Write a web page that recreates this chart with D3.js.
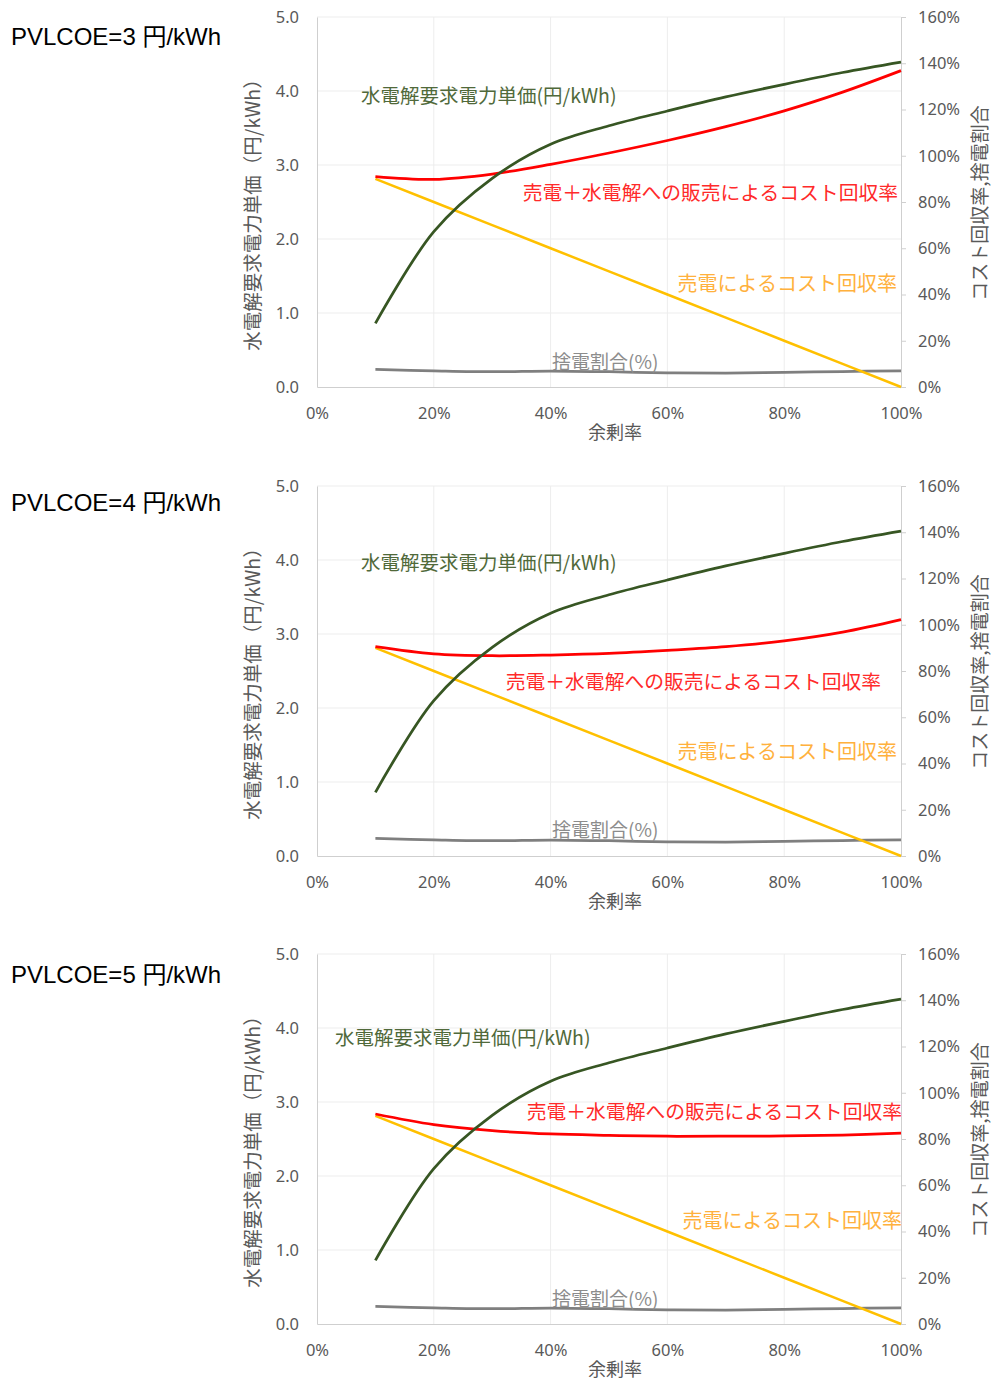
<!DOCTYPE html>
<html>
<head>
<meta charset="utf-8">
<script src="https://cdn.jsdelivr.net/npm/d3@7"></script>
<style>
  html, body { margin: 0; padding: 0; background: #fff; }
  svg { display: block; }
</style>
</head>
<body>
<svg id="fig" width="992" height="1382"></svg>
<script>
// Surplus ratio (%) at which each scenario was evaluated
const surplusRate = [10, 20, 30, 40, 50, 60, 70, 80, 90, 100];
// Required electricity price for electrolysis (yen/kWh), left axis
const demandPrice = [0.86, 2.10, 2.82, 3.28, 3.53, 3.73, 3.92, 4.09, 4.25, 4.39];
// Cost recovery from selling power only (%), right axis
const recoverySale = [90, 80, 70, 60, 50, 40, 30, 20, 10, 0];
// Curtailment ratio (%), right axis
const curtailRatio = [7.6, 7.0, 6.6, 6.9, 6.6, 6.1, 6.0, 6.3, 6.7, 7.0];
// Cost recovery from selling power + selling to electrolysis (%), one series per PV LCOE
const recoveryTotal3 = [91.0, 89.8, 92.1, 96.3, 101.2, 106.6, 112.6, 119.4, 127.5, 136.8];
const recoveryTotal4 = [90.5, 87.4, 86.6, 86.9, 87.6, 88.9, 90.5, 93.0, 96.8, 102.2];
const recoveryTotal5 = [90.8, 86.2, 83.6, 82.2, 81.6, 81.2, 81.2, 81.3, 81.7, 82.5];
const pvLcoe = [3, 4, 5];

// Tick labels
const xTicks = [0, 20, 40, 60, 80, 100];
const yLeftTicks = [0, 1, 2, 3, 4, 5];
const yRightTicks = [0, 20, 40, 60, 80, 100, 120, 140, 160];

// Text
const leftTitle = "水電解要求電力単価（円/kWh）";
const rightTitle = "コスト回収率,捨電割合";
const xTitle = "余剰率";
const lblDemand = "水電解要求電力単価(円/kWh)";
const lblTotal = "売電＋水電解への販売によるコスト回収率";
const lblSale = "売電によるコスト回収率";
const lblCurtail = "捨電割合(%)";

const panels = [
  { lcoe: pvLcoe[0], total: recoveryTotal3 },
  { lcoe: pvLcoe[1], total: recoveryTotal4 },
  { lcoe: pvLcoe[2], total: recoveryTotal5 }
];

// Layout (pixels)
const plotLeft = 317, plotRight = 901, plotH = 370;
const panelTop = [17, 486, 954];
const titleBaseline = [45, 511, 983];
// In-chart label anchors relative to the plot's top-left corner
const labelPos = [
  { demand: [44, 79], total: [581, 176], sale: [580, 267], curtail: [235, 345] },
  { demand: [44, 77], total: [564, 196], sale: [580, 266], curtail: [235, 344] },
  { demand: [18, 84], total: [585, 158], sale: [585, 267], curtail: [235, 345] }
];

const colors = {
  demand: "#375623", total: "#ff0000", sale: "#ffc000", curtail: "#7f7f7f",
  demandText: "#50693a", totalText: "#ff2a2a", saleText: "#ffb13d", curtailText: "#8c8c8c",
  tick: "#595959", grid: "#ededed", axis: "#cfcfcf"
};
const jpFont = "'Noto Sans CJK JP', 'Noto Sans', sans-serif";
const numFont = "'Noto Sans', 'Liberation Sans', sans-serif";

const svg = d3.select("#fig");

const x = d3.scaleLinear().domain([0, 100]).range([0, plotRight - plotLeft]);
const yL = d3.scaleLinear().domain([0, 5]).range([plotH, 0]);
const yR = d3.scaleLinear().domain([0, 160]).range([plotH, 0]);

const curve = d3.curveCatmullRom.alpha(0.5);
const lineLeft = d3.line().x((d, i) => x(surplusRate[i])).y(d => yL(d)).curve(curve);
const lineRight = d3.line().x((d, i) => x(surplusRate[i])).y(d => yR(d)).curve(curve);
const lineStraight = d3.line().x((d, i) => x(surplusRate[i])).y(d => yR(d));

panels.forEach((p, k) => {
  // panel title
  svg.append("text")
    .attr("x", 11).attr("y", titleBaseline[k])
    .attr("font-family", "'Liberation Sans', Arial, 'Noto Sans CJK JP', sans-serif")
    .attr("font-size", 24).attr("fill", "#000")
    .text(`PVLCOE=${p.lcoe} 円/kWh`);

  const g = svg.append("g").attr("transform", `translate(${plotLeft},${panelTop[k]})`);

  // gridlines
  g.append("g").selectAll("line").data(yLeftTicks.filter(v => v > 0)).join("line")
    .attr("x1", 0).attr("x2", x(100)).attr("y1", d => yL(d)).attr("y2", d => yL(d))
    .attr("stroke", colors.grid).attr("stroke-width", 1);
  g.append("g").selectAll("line").data(xTicks.filter(v => v > 0 && v < 100)).join("line")
    .attr("y1", 0).attr("y2", plotH).attr("x1", d => x(d)).attr("x2", d => x(d))
    .attr("stroke", colors.grid).attr("stroke-width", 1);

  // left axis
  const ax = g.append("g").call(d3.axisLeft(yL).tickValues(yLeftTicks).tickFormat(d3.format(".1f")).tickSize(0).tickPadding(18));
  ax.select(".domain").attr("stroke", colors.axis);
  ax.selectAll("text").attr("fill", colors.tick).attr("font-family", numFont).attr("font-size", 16.5);

  // bottom axis
  const bx = g.append("g").attr("transform", `translate(0,${plotH})`)
    .call(d3.axisBottom(x).tickValues(xTicks).tickFormat(d => d + "%").tickSize(0).tickPadding(20));
  bx.select(".domain").attr("stroke", colors.axis);
  bx.selectAll("text").attr("fill", colors.tick).attr("font-family", numFont).attr("font-size", 16.5);

  // right axis
  const rx = g.append("g").attr("transform", `translate(${x(100)},0)`)
    .call(d3.axisRight(yR).tickValues(yRightTicks).tickFormat(d => d + "%").tickSize(5).tickPadding(12));
  rx.select(".domain").attr("stroke", colors.axis);
  rx.selectAll(".tick line").attr("stroke", colors.axis);
  rx.selectAll("text").attr("fill", colors.tick).attr("font-family", numFont).attr("font-size", 16.5);

  // axis titles
  g.append("text")
    .attr("transform", `translate(${253 - plotLeft},${193}) rotate(-90)`)
    .attr("text-anchor", "middle").attr("dy", "0.35em")
    .attr("font-family", jpFont).attr("font-size", 19.5).attr("fill", colors.tick)
    .text(leftTitle);
  g.append("text")
    .attr("transform", `translate(${980 - plotLeft},${186}) rotate(-90)`)
    .attr("text-anchor", "middle").attr("dy", "0.35em")
    .attr("font-family", jpFont).attr("font-size", 19).attr("fill", colors.tick)
    .text(rightTitle);
  g.append("text")
    .attr("x", 298).attr("y", plotH + 46).attr("dy", "0.35em")
    .attr("text-anchor", "middle")
    .attr("font-family", jpFont).attr("font-size", 18).attr("fill", colors.tick)
    .text(xTitle);

  // series
  g.append("path").datum(curtailRatio).attr("d", lineRight)
    .attr("fill", "none").attr("stroke", colors.curtail).attr("stroke-width", 2.75);
  g.append("path").datum(recoverySale).attr("d", lineStraight)
    .attr("fill", "none").attr("stroke", colors.sale).attr("stroke-width", 2.5);
  g.append("path").datum(p.total).attr("d", lineRight)
    .attr("fill", "none").attr("stroke", colors.total).attr("stroke-width", 2.75);
  g.append("path").datum(demandPrice).attr("d", lineLeft)
    .attr("fill", "none").attr("stroke", colors.demand).attr("stroke-width", 2.75);

  // in-chart series labels
  const L = labelPos[k];
  const label = (pos, txt, fill, anchor, size) => g.append("text")
    .attr("x", pos[0]).attr("y", pos[1]).attr("dy", "0.35em")
    .attr("text-anchor", anchor)
    .attr("font-family", jpFont).attr("font-size", size).attr("fill", fill)
    .text(txt);
  label(L.demand, lblDemand, colors.demandText, "start", 19.5);
  label(L.total, lblTotal, colors.totalText, "end", 19.8);
  label(L.sale, lblSale, colors.saleText, "end", 20);
  label(L.curtail, lblCurtail, colors.curtailText, "start", 19);
});
</script>
</body>
</html>
